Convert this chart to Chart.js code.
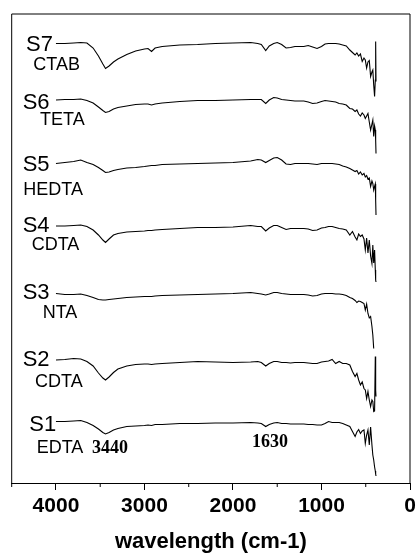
<!DOCTYPE html>
<html><head><meta charset="utf-8">
<script src="https://cdn.jsdelivr.net/npm/chart.js@4"></script>
<style>html,body{margin:0;padding:0;background:#fff;overflow:hidden}canvas{display:block}</style>
</head><body>
<canvas id="c" width="416" height="553"></canvas>
<script>
// Wavenumbers (cm-1) shared by all spectra
const wavenumbers = [4000,3900,3800,3720,3650,3580,3520,3470,3440,3400,3350,3300,3200,3100,3000,2960,2920,2880,2800,2600,2400,2200,2000,1800,1720,1680,1630,1590,1540,1500,1450,1400,1350,1300,1200,1150,1100,1050,1000,960,920,880,840,800,760,720,680,650,620,600,580,560,540,520,505,490,475,460,445,430,420,410,400,392,388,384];

// Stacked transmittance (a.u.) for each sample
const s7 = [87.9,87.9,88,88.1,88,87,85.4,83.8,82.9,83.4,84.2,84.8,85.7,86.4,86.8,86.9,86.3,87,87.3,87.6,87.7,87.9,88,88.1,87.9,87.7,86.5,87.4,87.9,88.1,87.7,87,87.1,87.3,87.3,87.5,87.2,86.9,87.3,87.8,87.9,87.9,87.9,87.8,87.6,87.4,86.6,86.1,85.6,86,85.4,85.8,84.3,85,84.6,83,84.2,84.5,81.3,82.2,82.6,79.6,77.3,80.6,88.3,80.3];
const s6 = [76.6,76.7,76.7,76.8,76.5,76,75.2,74.5,74.1,74.3,74.8,75.1,75.4,75.7,75.8,75.8,75.6,75.8,76,76.3,76.5,76.5,76.6,76.7,76.7,76.7,75.9,76.6,77.1,77,76.7,76.6,76.5,76.4,76.4,76.2,75.9,76,76.3,76.5,76.4,76.3,76.2,75.9,75.8,75.6,74.9,74.8,74.3,74.6,73.8,73.4,74,73.6,72.9,73.4,73.9,72.2,70.6,71.8,72.6,69.3,71.4,70.6,68.6,65.9];
const s5 = [63.9,64.1,64.3,64.6,64.1,63.7,63.1,62.5,62.1,62.2,62.5,62.7,63,63.1,63.3,63.4,63.5,63.5,63.7,63.8,63.9,64,64.1,64.4,64.7,64.6,64.1,64.5,65,65.1,64.6,63.8,63.7,63.9,63.9,63.9,63.8,63.7,63.9,63.9,63.9,63.9,63.8,63.7,63.4,63.2,62.9,62.6,62.3,62.5,61.8,62.2,61.6,61.9,61.2,61.5,60.8,61,59.3,60.4,59.9,58.6,59.3,59.8,56.6,53.6];
const s4 = [51.4,51.4,51.5,51.6,51.3,50.6,49.6,48.6,48.1,48.8,49.6,49.9,50.2,50.3,50.4,50.5,50.5,50.6,50.7,50.9,51.1,51.1,51.2,51.5,51.3,51.3,50.4,51,51.5,51.5,51.1,50.7,50.9,50.9,50.9,50.8,50.5,50.6,51,51.1,51.3,51.3,51.1,50.9,50.8,50.6,49.6,50.3,49.2,48.6,49.8,49.3,49.6,48.8,46.6,49,46,48.6,45.4,43.9,47.6,44,46.6,42.6,40.6,40.2];
const s3 = [37.9,37.7,37.7,37.8,37.5,37.1,36.7,36.6,36.6,36.7,36.8,36.9,37.1,37.2,37.3,37.3,37.3,37.4,37.5,37.6,37.7,37.8,37.9,38.1,37.9,37.8,37.6,37.8,38.1,38.1,37.9,37.8,37.7,37.7,37.7,37.6,37.4,37.5,37.8,37.9,37.9,37.9,37.8,37.8,37.7,37.5,37.1,36.9,36.5,36.1,36.4,36.3,36.1,35.9,34.6,35.8,33.9,33,33.3,31.3,29.6,26.9,null,null,null,null];
const s2 = [24.6,24.7,24.9,24.8,24.3,23.4,22,21,20.6,21.2,22.1,22.8,23.4,23.7,23.8,23.8,23.7,23.8,23.9,24.1,24.3,24.2,24.1,24.2,24.3,24.1,23.4,23.9,24.3,24.3,24.1,24.1,24,24.1,24.1,24,23.9,23.9,24.2,24.3,24.4,24.7,23.9,24.3,23.9,23.9,23.6,22.3,21.3,21.9,20.6,19.6,20.2,18.9,18.6,16.9,18.3,16.6,15.3,16.6,16.3,14.3,14.4,25.3,18.6,17.3];
const s1 = [12.3,12.3,12.4,12.5,12.1,11.5,10.8,10.1,9.8,10.1,10.6,10.9,11.3,11.4,11.5,11.6,11.5,11.7,11.7,11.9,11.9,12,12,12.1,12,11.9,11.3,11.7,12,12.1,11.9,11.9,11.8,11.8,11.8,11.7,11.7,11.6,11.6,11.9,12.3,12.1,12.1,12.1,11.9,11.6,11.3,10.3,9.3,10.2,10.7,9.9,10.4,10.6,7.9,9.6,10.6,7.6,11.2,7.6,5.6,4.6,3.2,2.4,1.8,1.4];

const seriesNames = ['S1','S2','S3','S4','S5','S6','S7'];
const sampleNames = ['EDTA','CDTA','NTA','CDTA','HEDTA','TETA','CTAB'];
const peakLabels = ['3440','1630'];
const xTickLabels = [4000,3000,2000,1000,0];

const allSeries = [s1,s2,s3,s4,s5,s6,s7];

// Text anchors in data space (wavenumber, a.u.)
const nameAnchors = [[4301,11.6],[4376,24.6],[4376,38.1],[4376,51.4],[4376,63.6],[4376,76],[4338,87.6]];
const sampleAnchors = [[4218,6.9],[4237,20.1],[4150,33.9],[4274,47.6],[4369,58.6],[4180,72.6],[4256,83.6]];
const peakAnchors = [[3389,7],[1582,8.1]];

const SANS = '"Liberation Sans", Arial, sans-serif';
const SERIF = '"Liberation Serif", "Times New Roman", serif';

const datasets = allSeries.map((arr, k) => ({
  label: seriesNames[k],
  data: wavenumbers.map((w, i) => ({x: w, y: arr[i]})),
  borderColor: '#000',
  borderWidth: 1.1,
  pointRadius: 0,
  tension: 0,
  spanGaps: false,
  fill: false
}));

const decor = {
  id: 'decor',
  afterDraw(chart) {
    const {ctx, chartArea: a, scales: {x, y}} = chart;
    ctx.save();
    // frame (left, top, right)
    ctx.strokeStyle = '#000';
    ctx.lineWidth = 1;
    ctx.beginPath();
    ctx.moveTo(a.left, a.bottom);
    ctx.lineTo(a.left, a.top);
    ctx.lineTo(a.right, a.top);
    ctx.lineTo(a.right, a.bottom);
    ctx.stroke();
    // minor ticks
    ctx.beginPath();
    for (let v = 500; v <= 4500; v += 1000) {
      const px = x.getPixelForValue(v);
      ctx.moveTo(px, a.bottom);
      ctx.lineTo(px, a.bottom + 4);
    }
    ctx.stroke();
    // labels
    ctx.fillStyle = '#000';
    ctx.textBaseline = 'middle';
    ctx.textAlign = 'left';
    ctx.font = '22px ' + SANS;
    nameAnchors.forEach((p, i) => ctx.fillText(seriesNames[i], x.getPixelForValue(p[0]), y.getPixelForValue(p[1])));
    ctx.font = '18px ' + SANS;
    sampleAnchors.forEach((p, i) => ctx.fillText(sampleNames[i], x.getPixelForValue(p[0]), y.getPixelForValue(p[1])));
    ctx.textAlign = 'center';
    ctx.font = 'bold 18px ' + SERIF;
    peakAnchors.forEach((p, i) => ctx.fillText(peakLabels[i], x.getPixelForValue(p[0]), y.getPixelForValue(p[1])));
    ctx.restore();
  }
};

new Chart(document.getElementById('c'), {
  type: 'line',
  data: {datasets},
  options: {
    responsive: false,
    animation: false,
    devicePixelRatio: 1,
    layout: {padding: {left: 11.7, right: 6, top: 14, bottom: 0}},
    plugins: {legend: {display: false}, tooltip: {enabled: false}},
    scales: {
      x: {
        type: 'linear',
        reverse: true,
        min: 0,
        max: 4500,
        afterFit(s) { s.height = 70; s.paddingLeft = 0; s.paddingRight = 0; },
        border: {display: true, color: '#000', width: 1},
        grid: {
          display: true,
          drawOnChartArea: false,
          drawTicks: true,
          tickLength: 7,
          tickWidth: 1,
          tickColor: c => (c.tick && xTickLabels.includes(c.tick.value)) ? '#000' : 'rgba(0,0,0,0)'
        },
        ticks: {
          stepSize: 500,
          autoSkip: false,
          maxRotation: 0,
          padding: 4,
          color: '#000',
          font: {family: SANS, size: 21, weight: 'bold'},
          callback: v => xTickLabels.includes(v) ? String(v) : ''
        },
        title: {
          display: true,
          text: 'wavelength (cm-1)',
          color: '#000',
          font: {family: SANS, size: 22, weight: 'bold'},
          padding: {top: 0, bottom: -2}
        }
      },
      y: {
        display: false,
        min: 0,
        max: 93.8
      }
    }
  },
  plugins: [decor]
});
</script>
</body></html>
